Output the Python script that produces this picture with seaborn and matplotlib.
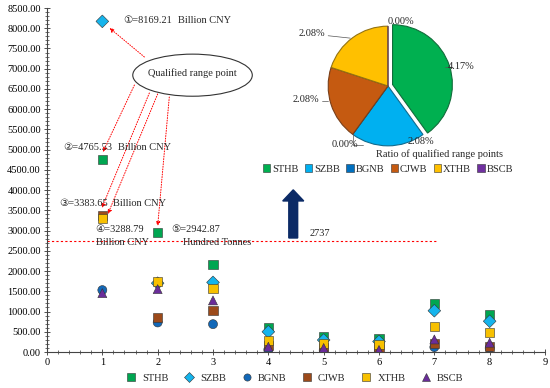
import numpy as np
import pandas as pd
import matplotlib
matplotlib.use("Agg")
import matplotlib.pyplot as plt
import seaborn as sns
from matplotlib.patches import Ellipse, Patch
from matplotlib.ticker import MultipleLocator, FormatStrFormatter

# ---- data ----
series = ["STHB", "SZBB", "BGNB", "CJWB", "XTHB", "BSCB"]
x_pos = [1, 2, 3, 4, 5, 6, 7, 8]
sthb = [4765.53, 2942.87, 2170, 595, 378, 338, 1205, 915]
szbb = [8169.21, 1700, 1720, 500, 296, 260, 1020, 760]
bgnb = [1530, 730, 688, 60, 40, 30, 120, 90]
cjwb = [3383.65, 855, 1020, 150, 110, 80, 215, 135]
xthb = [3288.79, 1736, 1580, 296, 220, 190, 635, 477]
bscb = [1455, 1555, 1275, 130, 100, 50, 310, 230]

pie_vals = [4.17, 2.08, 0.00, 2.08, 2.08, 0.00]
threshold = 2737

colors = {"STHB": "#00A651", "SZBB": "#15B4EC", "BGNB": "#1268B8",
          "CJWB": "#9C4A1A", "XTHB": "#F7C000", "BSCB": "#6A2C9A"}
pie_colors = ["#00B050", "#00B0F0", "#0070C0", "#C55A11", "#FFC000", "#7030A0"]
markers = {"STHB": "s", "SZBB": "D", "BGNB": "o", "CJWB": "s", "XTHB": "s", "BSCB": "^"}

df = pd.DataFrame({
    "x": x_pos * 6,
    "y": sthb + szbb + bgnb + cjwb + xthb + bscb,
    "series": [s for s in series for _ in x_pos],
})

sns.set_theme(style="white")
plt.rcParams["font.family"] = ["Liberation Serif", "DejaVu Sans", "Noto Sans CJK SC"]
fs = 7.5

fig = plt.figure(figsize=(5.5, 3.88), dpi=100)
ax = fig.add_axes([47/550, 36/388, 498/550, 344/388])

sns.scatterplot(data=df, x="x", y="y", hue="series", style="series",
                palette=colors, markers=markers, s=42, edgecolor="#333333",
                linewidth=0.4, ax=ax, legend=True, zorder=3)

ax.set_xlim(0, 9)
ax.set_ylim(0, 8500)
ax.xaxis.set_major_locator(MultipleLocator(1))
ax.xaxis.set_minor_locator(MultipleLocator(0.2))
ax.yaxis.set_major_locator(MultipleLocator(500))
ax.yaxis.set_minor_locator(MultipleLocator(100))
ax.yaxis.set_major_formatter(FormatStrFormatter("%.2f"))
ax.set_xlabel("")
ax.set_ylabel("")
ax.tick_params(axis="both", which="major", direction="inout", length=5, width=0.6,
               labelsize=fs, colors="#333333", labelcolor="black", pad=2)
ax.tick_params(axis="both", which="minor", direction="inout", length=3, width=0.5,
               colors="#333333")
ax.tick_params(axis="x", which="both", bottom=True)
ax.tick_params(axis="y", which="both", left=True)
for side in ["top", "right"]:
    ax.spines[side].set_visible(False)
for side in ["left", "bottom"]:
    ax.spines[side].set_color("#444444")
    ax.spines[side].set_linewidth(0.8)

# bottom legend
h, l = ax.get_legend_handles_labels()
ax.legend(h, l, ncol=6, frameon=False, fontsize=fs, loc="center",
          bbox_to_anchor=(292/550, 1 - 378/388), bbox_transform=fig.transFigure,
          handletextpad=0.05, columnspacing=1.0, markerscale=0.8)

# threshold line and arrow
ax.plot([0, 7.05], [threshold, threshold], color="red", ls=(0, (2, 2)), lw=0.8, zorder=2)
ax.text(4.75, threshold + 200, str(threshold), fontsize=fs, va="center", ha="left")
ax.arrow(4.45, threshold + 80, 0, 1190, width=0.16, head_width=0.38,
         head_length=275, length_includes_head=True, color="#0B2A66", zorder=4)

# ellipse callout
ax.add_patch(Ellipse((2.63, 6840), 2.16, 1040, facecolor="white",
                     edgecolor="#333333", lw=0.8, zorder=3))
ax.text(2.63, 6880, "Qualified range point", ha="center", va="center", fontsize=fs, zorder=4)

arrows = [((1.76, 7290), (1.13, 8006)),
          ((1.58, 6597), (1.01, 4942)),
          ((1.85, 6400), (0.99, 3558)),
          ((2.00, 6375), (1.10, 3410)),
          ((2.21, 6300), (2.00, 3113))]
for start, tip in arrows:
    ax.annotate("", xy=tip, xytext=start,
                arrowprops=dict(arrowstyle="-|>", color="red", lw=0.7, ls=":",
                                mutation_scale=6, shrinkA=0, shrinkB=0), zorder=2)

notes = [(1.385, 8179, "\u2460=8169.21"), (2.36, 8179, "Billion CNY"),
         (0.29, 5065, "\u2461=4765.53"), (1.28, 5065, "Billion CNY"),
         (0.22, 3657, "\u2462=3383.65"), (1.20, 3657, "Billion CNY"),
         (0.88, 3039, "\u2463=3288.79"), (0.88, 2718, "Billion CNY"),
         (2.25, 3039, "\u2464=2942.87"), (2.45, 2718, "Hundred Tonnes")]
for x, y, t in notes:
    ax.text(x, y, t, fontsize=fs, ha="left", va="center", zorder=4)

# pie inset
pax = fig.add_axes([318/550, 1 - 156/388, 140/550, 140/388])
explode = [0.08, 0, 0, 0, 0, 0]
wedges, _ = pax.pie(pie_vals, colors=pie_colors, startangle=90, counterclock=False,
                    explode=explode, wedgeprops=dict(edgecolor="white", linewidth=1.2))
for w, c in zip(wedges, pie_colors):
    w.set_edgecolor(sns.dark_palette(c, 3)[1])
    w.set_linewidth(0.8)
pax.set_xlim(-1.17, 1.17)
pax.set_ylim(-1.17, 1.17)
pax.set_aspect("equal")
pax.axis("off")

pie_labels = [((1.23, 0.32), "4.17%", (1.06, 0.32)),
              ((0.55, -0.92), "2.08%", None),
              ((-0.72, -0.98), "0.00%", (-0.58, -0.8)),
              ((-1.38, -0.22), "2.08%", (-1.0, -0.25)),
              ((-1.27, 0.87), "2.08%", (-0.63, 0.80)),
              ((0.22, 1.08), "0.00%", None)]
for (tx, ty), t, anchor in pie_labels:
    pax.text(tx, ty, t, fontsize=fs, ha="center", va="center")
    if anchor is not None:
        ex = tx - 0.28 if tx < 0 else tx - 0.3
        if tx > 1:
            pax.plot([anchor[0], tx - 0.27], [anchor[1], ty], color="#555555", lw=0.5)
        elif ty < -0.9:
            pax.plot([tx + 0.3, anchor[0], anchor[0]], [ty, ty, anchor[1]], color="#555555", lw=0.5)
        else:
            pax.plot([tx + 0.27, anchor[0]], [ty - 0.03, anchor[1]], color="#555555", lw=0.5)

fig.text(440/550, 1 - 154/388, "Ratio of qualified range points", fontsize=fs,
         ha="center", va="center")

pie_handles = [Patch(facecolor=c, edgecolor="#333333", lw=0.4) for c in pie_colors]
fig.legend(pie_handles, series, ncol=6, frameon=False, fontsize=fs, loc="center",
           bbox_to_anchor=(388/550, 1 - 169/388), handlelength=0.7, handleheight=0.7,
           handletextpad=0.2, columnspacing=0.6)

fig.savefig("out.png", dpi=100)
